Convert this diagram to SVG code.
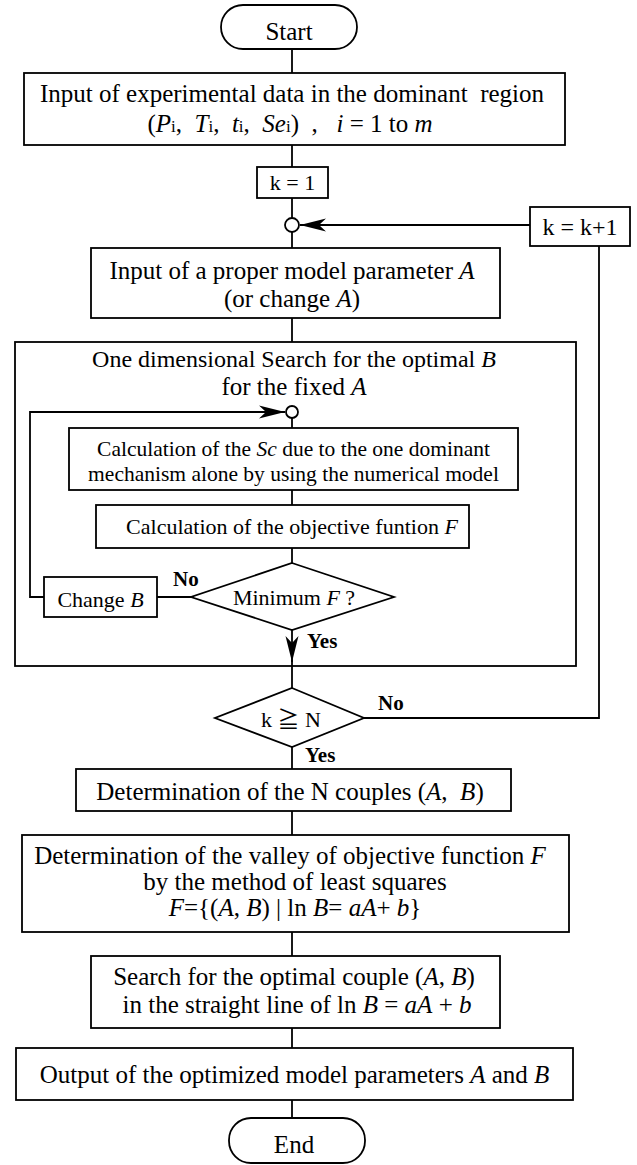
<svg xmlns="http://www.w3.org/2000/svg" width="637" height="1165" viewBox="0 0 637 1165">
<style>
.box{fill:#fff;stroke:#000;stroke-width:1.8}
.ln{fill:none;stroke:#000;stroke-width:1.8}
text{font-family:"Liberation Serif","Noto Sans CJK JP",serif;fill:#000;white-space:pre}
.t25{font-size:25px}
.t24{font-size:24px}
.t22{font-size:22px}
.t21{font-size:21.5px}
.lab{font-size:21px;font-weight:bold}
.i{font-style:italic}
.sub{font-size:17px}
</style>
<defs>
<marker id="ah" markerUnits="userSpaceOnUse" markerWidth="30" markerHeight="16" viewBox="-28 -8 30 16" refX="0" refY="0" orient="auto">
<path d="M0,0 L-26,-6.5 L-19,0 L-26,6.5 Z" fill="#000"/>
</marker>
</defs>
<rect width="637" height="1165" fill="#fff"/>

<g id="search-frame">
<rect class="box" x="15" y="342" width="561" height="324"/>
<text class="t24" x="294" y="367" text-anchor="middle">One dimensional Search for the optimal <tspan class="i">B</tspan></text>
<text class="t25" x="294" y="395" text-anchor="middle">for the fixed <tspan class="i">A</tspan></text>
</g>

<g id="connectors">
<line class="ln" x1="292" y1="49" x2="292" y2="73"/>
<line class="ln" x1="292" y1="145" x2="292" y2="167"/>
<line class="ln" x1="292" y1="198" x2="292" y2="218"/>
<line class="ln" x1="292" y1="232" x2="292" y2="248"/>
<line class="ln" x1="530" y1="225" x2="300" y2="225" marker-end="url(#ah)"/>
<path class="ln" d="M363,718 H599 V246"/>
<line class="ln" x1="292" y1="318" x2="292" y2="342"/>
<line class="ln" x1="292" y1="418" x2="292" y2="428"/>
<path class="ln" d="M44,597 H30 V412 H285" marker-end="url(#ah)"/>
<line class="ln" x1="292" y1="490" x2="292" y2="505"/>
<line class="ln" x1="292" y1="548" x2="292" y2="563"/>
<line class="ln" x1="157" y1="597" x2="191" y2="597"/>
<line class="ln" x1="292" y1="630" x2="292" y2="662" marker-end="url(#ah)"/>
<line class="ln" x1="292" y1="660" x2="292" y2="688"/>
<line class="ln" x1="292" y1="747" x2="292" y2="769"/>
<line class="ln" x1="292" y1="811" x2="292" y2="835"/>
<line class="ln" x1="292" y1="932" x2="292" y2="956"/>
<line class="ln" x1="292" y1="1028" x2="292" y2="1048"/>
<line class="ln" x1="292" y1="1100" x2="292" y2="1118"/>
<text class="lab" x="173" y="586">No</text>
<text class="lab" x="307" y="648">Yes</text>
<text class="lab" x="378" y="710">No</text>
<text class="lab" x="305" y="762">Yes</text>
</g>

<g id="start">
<rect class="box" x="221" y="5" width="136" height="44" rx="22"/>
<text class="t25" x="289" y="40" text-anchor="middle">Start</text>
</g>

<g id="input-data">
<rect class="box" x="24" y="73" width="541" height="72"/>
<text class="t25" x="292" y="102" text-anchor="middle">Input of experimental data in the dominant  region</text>
<text class="t25" x="290" y="132" text-anchor="middle">(<tspan class="i">P</tspan><tspan class="sub">i</tspan>,  <tspan class="i">T</tspan><tspan class="sub">i</tspan>,  <tspan class="i">t</tspan><tspan class="sub">i</tspan>,  <tspan class="i">Se</tspan><tspan class="sub">i</tspan>)  ,   <tspan class="i">i</tspan> = 1 to <tspan class="i">m</tspan></text>
</g>

<g id="k-init">
<rect class="box" x="257" y="167" width="71" height="31"/>
<text class="t22" x="292.5" y="190" text-anchor="middle">k = 1</text>
</g>

<g id="join-outer">
<circle class="box" cx="292" cy="225" r="7"/>
</g>

<g id="k-inc">
<rect class="box" x="530" y="207" width="100" height="39"/>
<text class="t24" x="580" y="235" text-anchor="middle">k = k+1</text>
</g>

<g id="input-A">
<rect class="box" x="91" y="248" width="409" height="70"/>
<text class="t25" x="292" y="279" text-anchor="middle">Input of a proper model parameter <tspan class="i">A</tspan></text>
<text class="t25" x="292" y="307" text-anchor="middle">(or change <tspan class="i">A</tspan>)</text>
</g>

<g id="join-inner">
<circle class="box" cx="292" cy="412" r="6"/>
</g>

<g id="calc-sc">
<rect class="box" x="69" y="428" width="449" height="62"/>
<text class="t21" x="293.5" y="456" text-anchor="middle">Calculation of the <tspan class="i">Sc</tspan> due to the one dominant</text>
<text class="t21" x="293.5" y="481" text-anchor="middle">mechanism alone by using the numerical model</text>
</g>

<g id="calc-f">
<rect class="box" x="96" y="505" width="373" height="43"/>
<text class="t22" x="292" y="534" text-anchor="middle">Calculation of the objective funtion <tspan class="i">F</tspan></text>
</g>

<g id="min-f">
<polygon class="box" points="292,563 394,597 292,630 191,597"/>
<text class="t22" x="294" y="605" text-anchor="middle">Minimum <tspan class="i">F</tspan> ?</text>
</g>

<g id="change-b">
<rect class="box" x="44" y="577" width="113" height="40"/>
<text class="t22" x="100.5" y="607" text-anchor="middle">Change <tspan class="i">B</tspan></text>
</g>

<g id="k-check">
<polygon class="box" points="292,688 364,718 292,747 215,718"/>
<text class="t22" x="291" y="727" text-anchor="middle">k ≧ N</text>
</g>

<g id="n-couples">
<rect class="box" x="76" y="769" width="435" height="42"/>
<text class="t25" x="290" y="800" text-anchor="middle">Determination of the N couples (<tspan class="i">A</tspan>,  <tspan class="i">B</tspan>)</text>
</g>

<g id="valley">
<rect class="box" x="22" y="835" width="547" height="97"/>
<text class="t25" x="290" y="864" text-anchor="middle">Determination of the valley of objective function <tspan class="i">F</tspan></text>
<text class="t25" x="295" y="890" text-anchor="middle">by the method of least squares</text>
<text class="t25" x="295" y="916" text-anchor="middle"><tspan class="i">F</tspan>={(<tspan class="i">A</tspan>, <tspan class="i">B</tspan>) | ln <tspan class="i">B</tspan>= <tspan class="i">aA</tspan>+ <tspan class="i">b</tspan>}</text>
</g>

<g id="search-couple">
<rect class="box" x="91" y="956" width="409" height="72"/>
<text class="t25" x="294" y="985" text-anchor="middle">Search for the optimal couple (<tspan class="i">A</tspan>, <tspan class="i">B</tspan>)</text>
<text class="t25" x="297" y="1013" text-anchor="middle">in the straight line of ln <tspan class="i">B</tspan> = <tspan class="i">aA</tspan> + <tspan class="i">b</tspan></text>
</g>

<g id="output">
<rect class="box" x="16" y="1048" width="557" height="52"/>
<text class="t25" x="294.5" y="1083" text-anchor="middle">Output of the optimized model parameters <tspan class="i">A</tspan> and <tspan class="i">B</tspan></text>
</g>

<g id="end">
<rect class="box" x="229" y="1118" width="136" height="45" rx="22"/>
<text class="t25" x="294" y="1153" text-anchor="middle">End</text>
</g>
</svg>
